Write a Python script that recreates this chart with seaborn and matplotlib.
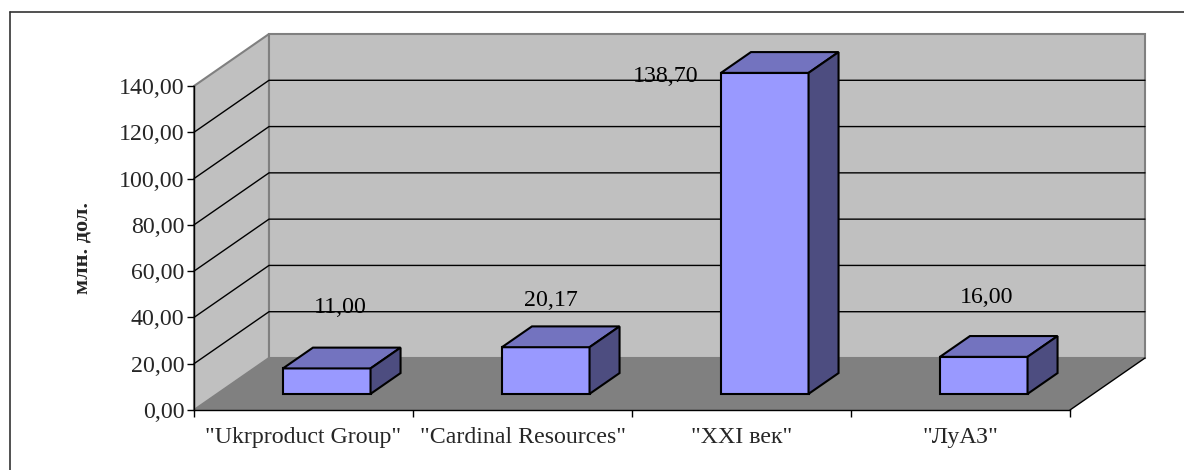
import matplotlib
matplotlib.use('Agg')
import matplotlib.pyplot as plt
import matplotlib.transforms as mtransforms
from matplotlib.patches import Polygon
from matplotlib.lines import Line2D
import seaborn as sns
import pandas as pd

# data
categories = ['"Ukrproduct Group"', '"Cardinal Resources"', '"XXI век"', '"ЛуАЗ"']
values = [11.00, 20.17, 138.70, 16.00]
value_labels = ['11,00', '20,17', '138,70', '16,00']
yticks = [0, 20, 40, 60, 80, 100, 120, 140]
ytick_labels = ['0,00', '20,00', '40,00', '60,00', '80,00', '100,00', '120,00', '140,00']

# where Excel put the value labels, relative to the front top centre of each bar
label_offsets = [(0.17, 33.5), (0.13, 27.3), (-0.345, 5.6), (0.12, 32.5)]

sns.set_theme(style='white')
plt.rcParams['font.family'] = ['Liberation Serif', 'DejaVu Serif']

W, H = 1184, 470
fig = plt.figure(figsize=(W / 100, H / 100), dpi=100)
fig.patch.set_facecolor('white')
ax = fig.add_axes([194 / W, 60 / H, 876 / W, 324 / H])
ax.set_facecolor('none')

df = pd.DataFrame({'company': categories, 'value': values})
sns.barplot(data=df, x='company', y='value', width=0.4, color='#9999FF',
            saturation=1, edgecolor='black', linewidth=1.5, ax=ax, zorder=5)

x0, x1 = -0.5, len(categories) - 0.5
ymax = 140
ax.set_xlim(x0, x1)
ax.set_ylim(0, ymax)

# oblique depth of the 3d box (category units / value units for full depth)
DX = 75 / 219
DY = 52 / (324 / ymax)
front, back = 0.31, 0.71

# walls and floor
wall_kw = dict(closed=True, clip_on=False)
ax.add_patch(Polygon([(x0, 0), (x0 + DX, DY), (x0 + DX, ymax + DY), (x0, ymax)],
                     facecolor='#C0C0C0', edgecolor='#808080', lw=1.5, zorder=0.1, **wall_kw))
ax.add_patch(Polygon([(x0 + DX, DY), (x1 + DX, DY), (x1 + DX, ymax + DY), (x0 + DX, ymax + DY)],
                     facecolor='#C0C0C0', edgecolor='#808080', lw=1.5, zorder=0.1, **wall_kw))
ax.add_patch(Polygon([(x0, 0), (x1, 0), (x1 + DX, DY), (x0 + DX, DY)],
                     facecolor='#808080', edgecolor='none', zorder=0.2, **wall_kw))
ax.plot([x1, x1 + DX], [0, DY], color='black', lw=1, clip_on=False, zorder=0.3)

# gridlines on left and back wall
for v in yticks[1:-1]:
    ax.plot([x0, x0 + DX, x1 + DX], [v, v + DY, v + DY], color='black', lw=1,
            clip_on=False, zorder=0.3)

# turn seaborn's flat bars into boxes
shift = mtransforms.Affine2D().translate(front * DX, front * DY) + ax.transData
d = back - front
for p in list(ax.patches):
    if p.get_zorder() != 5:
        continue
    p.set_transform(shift)
    p.set_clip_on(False)
    xl = p.get_x() + front * DX
    xr = xl + p.get_width()
    yb = front * DY
    yt = yb + p.get_height()
    ax.add_patch(Polygon([(xl, yt), (xr, yt), (xr + d * DX, yt + d * DY), (xl + d * DX, yt + d * DY)],
                         facecolor='#7373BF', edgecolor='black', lw=1.5, zorder=5, clip_on=False))
    ax.add_patch(Polygon([(xr, yb), (xr + d * DX, yb + d * DY), (xr + d * DX, yt + d * DY), (xr, yt)],
                         facecolor='#4D4D80', edgecolor='black', lw=1.5, zorder=5, clip_on=False))

# value labels
for i, (v, lab) in enumerate(zip(values, value_labels)):
    ox, oy = label_offsets[i]
    ax.text(i + ox, v + oy, lab, ha='center', va='center', fontsize=17.2,
            color='black', zorder=6, clip_on=False)

# axes
for s in ['top', 'right']:
    ax.spines[s].set_visible(False)
for s in ['left', 'bottom']:
    ax.spines[s].set_color('black')
    ax.spines[s].set_linewidth(1)
    ax.spines[s].set_zorder(4)

ax.set_yticks(yticks)
ax.set_yticklabels(ytick_labels)
ax.tick_params(axis='y', direction='out', length=5, width=1, color='black',
               labelsize=17.2, pad=2, left=True)
ax.set_xticks([x0 + i for i in range(len(categories) + 1)])
ax.set_xticklabels([])
ax.set_xticks(range(len(categories)), minor=True)
ax.set_xticklabels(categories, minor=True)
ax.tick_params(axis='x', which='major', direction='out', length=5, width=1,
               color='black', bottom=True)
ax.tick_params(axis='x', which='minor', length=0, labelsize=17.2, pad=12, bottom=True)
ax.set_xlabel('')
ax.set_ylabel('млн. дол.', fontweight='bold', fontsize=16, va='center')
ax.yaxis.set_label_coords(-0.127, 0.5)

# chart border (cut off at right and bottom)
fig.add_artist(Line2D([10 / W, 1], [1 - 12 / H, 1 - 12 / H], color='#333333', lw=1.2,
                      transform=fig.transFigure))
fig.add_artist(Line2D([10 / W, 10 / W], [1 - 12 / H, 0], color='#333333', lw=1.2,
                      transform=fig.transFigure))

fig.savefig('out.png', dpi=100)
